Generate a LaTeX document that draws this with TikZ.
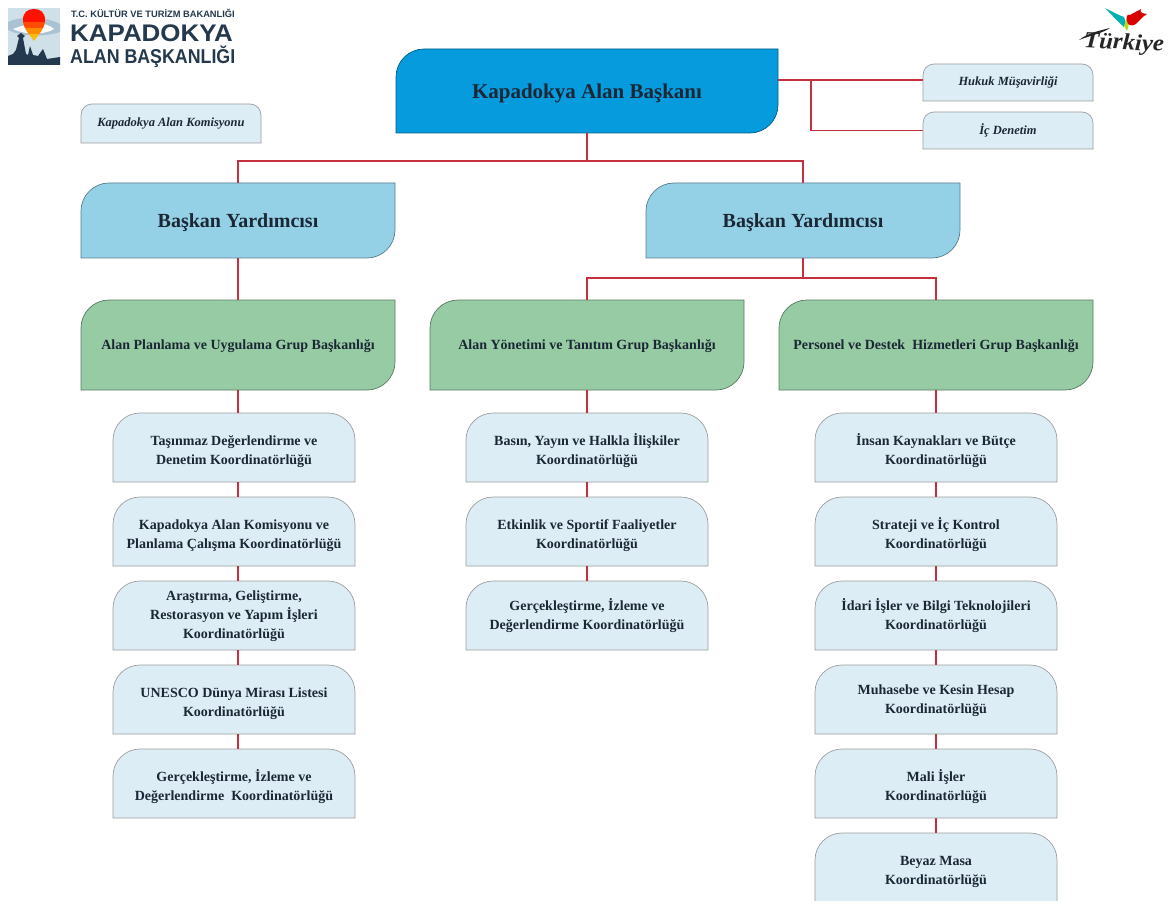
\documentclass[tikz,border=0pt]{standalone}
\usepackage{fontspec}
\setmainfont{Liberation Serif}
\newfontfamily\logofont{Liberation Sans}
\definecolor{linkred}{HTML}{C6303C}
\definecolor{presblue}{HTML}{059BDD}
\definecolor{vpblue}{HTML}{95D1E6}
\definecolor{groupgreen}{HTML}{97CBA3}
\definecolor{paleblue}{HTML}{DDEDF6}
\definecolor{inkdark}{HTML}{1B2735}
\definecolor{logonavy}{HTML}{24394D}
\definecolor{logosky}{HTML}{CFE0E8}
\definecolor{logoband}{HTML}{A9C3D2}
\tikzset{
  link/.style={draw=linkred,line width=1.4pt},
  boxtext/.style={inner sep=0pt,align=center,text=inkdark},
  titlefont/.style={font=\bfseries\fontsize{21}{24}\selectfont},
  vpfont/.style={font=\bfseries\fontsize{20}{24}\selectfont},
  groupfont/.style={font=\bfseries\fontsize{14}{19}\selectfont},
  coordfont/.style={font=\bfseries\fontsize{14}{19}\selectfont},
  smallfont/.style={font=\bfseries\itshape\fontsize{12.5}{14}\selectfont},
}
\newcommand\lowered[2]{\raisebox{-#1pt}[\height][\depth]{#2}}
% name x1 y1 x2 y2 r fill font-style text
\newcommand\diagbox[9]{%
  \filldraw[fill=#7,draw=#7!60!black,line width=.7pt]
    (#2,#5) -- (#2,{#3+#6}) .. controls (#2,{#3+.45*#6}) and ({#2+.45*#6},#3) .. ({#2+#6},#3)
    -- (#4,#3) -- (#4,{#5-#6}) .. controls (#4,{#5-.45*#6}) and ({#4-.45*#6},#5) .. ({#4-#6},#5) -- cycle;
  \node[boxtext,#8,minimum width={(#4-#2)*1pt},minimum height={(#5-#3)*1pt}] (#1) at ({(#2+#4)/2},{(#3+#5)/2}) {#9};}
\newcommand\topbox[8]{%
  \filldraw[fill=paleblue,draw=black!38,line width=.7pt]
    (#2,#5) -- (#2,{#3+#6}) .. controls (#2,{#3+.45*#6}) and ({#2+.45*#6},#3) .. ({#2+#6},#3)
    -- ({#4-#6},#3) .. controls ({#4-.45*#6},#3) and (#4,{#3+.45*#6}) .. (#4,{#3+#6}) -- (#4,#5) -- cycle;
  \node[boxtext,#7,minimum width={(#4-#2)*1pt},minimum height={(#5-#3)*1pt}] (#1) at ({(#2+#4)/2},{(#3+#5)/2}) {#8};}
\newcommand\coordbox[6][3.5]{\topbox{#2}{#3}{#4}{#5}{#4+69}{27}{coordfont}{\lowered{#1}{\begin{tabular}{@{}c@{}}#6\end{tabular}}}}
\begin{document}
\begin{tikzpicture}[x=1pt,y=-1pt]
\useasboundingbox (0,0) rectangle (1169,901);
\clip (0,0) rectangle (1169,901);
\fill[white] (0,0) rectangle (1169,901);

% logo
\fill[logosky] (8,8) rectangle (60,65);
\fill[logoband] (8,22) .. controls (20,16) and (45,16) .. (60,24) -- (60,32) .. controls (40,38) and (20,36) .. (8,30) -- cycle;
\fill[white!90!paleblue] (13,29) .. controls (25,24) and (45,20) .. (54,29) .. controls (45,35) and (25,35) .. (13,29) -- cycle;
\fill[logonavy] (8,65) -- (8,56) -- (13,54) -- (16,50) -- (19,38) -- (17,36) -- (21,33) -- (25,36) -- (23,38) -- (26,54) -- (28,55) -- (30,46) -- (33,55) -- (38,56) -- (43,49) -- (47,59) -- (60,57) -- (60,65) -- cycle;
\begin{scope}
\clip (34,41) .. controls (30,35) and (23,29) .. (23,20) .. controls (23,12) and (28,9) .. (34,9) .. controls (40,9) and (45,12) .. (45,20) .. controls (45,29) and (38,35) .. (34,41) -- cycle;
\fill[red!85!orange] (20,5) rectangle (48,22);
\fill[orange!60!red] (20,22) rectangle (48,28);
\fill[orange!90!yellow] (20,28) rectangle (48,34);
\fill[yellow!50!orange] (20,34) rectangle (48,42);
\end{scope}
\node[anchor=west,inner sep=0pt,text=logonavy,font=\logofont\bfseries\fontsize{9.3}{10}\selectfont] (lg1) at (71,13) {T.C. KÜLTÜR VE TURİZM BAKANLIĞI};
\node[anchor=west,inner sep=0pt,text=logonavy,font=\logofont\bfseries\fontsize{24}{26}\selectfont,xscale=1.08] (lg2) at (70,33) {KAPADOKYA};
\node[anchor=west,inner sep=0pt,text=logonavy,font=\logofont\bfseries\fontsize{20}{21}\selectfont,xscale=.89] (lg3) at (70,57) {ALAN BAŞKANLIĞI};

% Türkiye mark
\fill[teal!60!cyan] (1105,8) .. controls (1112,15) and (1118,22) .. (1124,27) .. controls (1126,22) and (1126,20) .. (1124,17) .. controls (1118,15) and (1111,11) .. (1105,8) -- cycle;
\fill[yellow!70!green] (1124,26) -- (1127,18) .. controls (1129,22) and (1129,26) .. (1127,31) -- cycle;
\fill[red!85!black] (1128,24) .. controls (1125,18) and (1127,13) .. (1130,15) .. controls (1133,13) and (1138,11) .. (1141,9) .. controls (1140,12) and (1140,13) .. (1147,14) .. controls (1142,17) and (1140,20) .. (1137,23) .. controls (1134,26) and (1130,26) .. (1128,24) -- cycle;
\fill[black!85] (1079,40) .. controls (1088,33) and (1098,31) .. (1110,28) .. controls (1103,33) and (1092,35) .. (1079,40) -- cycle;
\node[inner sep=0pt,text=black!85,font=\bfseries\itshape\fontsize{23}{25}\selectfont,xscale=1.08,rotate=-3] (tk) at (1124,44) {Türkiye};

% boxes
\diagbox{pres}{396}{49}{778}{133}{28}{presblue}{titlefont}{\lowered{2}{Kapadokya Alan Başkanı}}
\topbox{huk}{923}{64}{1093}{101}{11}{smallfont}{Hukuk Müşavirliği}
\topbox{ic}{923}{112}{1093}{149}{11}{smallfont}{İç Denetim}
\topbox{kom}{81}{104}{261}{143}{11}{smallfont}{Kapadokya Alan Komisyonu}

\diagbox{vpa}{81}{183}{395}{258}{28}{vpblue}{vpfont}{\lowered{2}{Başkan Yardımcısı}}
\diagbox{vpb}{646}{183}{960}{258}{28}{vpblue}{vpfont}{\lowered{2}{Başkan Yardımcısı}}

\diagbox{gpa}{81}{300}{395}{390}{28}{groupgreen}{groupfont}{\lowered{1}{Alan Planlama ve Uygulama Grup Başkanlığı}}
\diagbox{gpb}{430}{300}{744}{390}{28}{groupgreen}{groupfont}{\lowered{1}{Alan Yönetimi ve Tanıtım Grup Başkanlığı}}
\diagbox{gpc}{779}{300}{1093}{390}{28}{groupgreen}{groupfont}{\lowered{1}{Personel ve Destek\ \ Hizmetleri Grup Başkanlığı}}

\coordbox[4]{a1}{113}{413}{355}{Taşınmaz Değerlendirme ve\\Denetim Koordinatörlüğü}
\coordbox[4]{a2}{113}{497}{355}{Kapadokya Alan Komisyonu ve\\Planlama Çalışma Koordinatörlüğü}
\coordbox[0.5]{a3}{113}{581}{355}{Araştırma, Geliştirme,\\Restorasyon ve Yapım İşleri\\Koordinatörlüğü}
\coordbox{a4}{113}{665}{355}{UNESCO Dünya Mirası Listesi\\Koordinatörlüğü}
\coordbox{a5}{113}{749}{355}{Gerçekleştirme, İzleme ve\\Değerlendirme\ \ Koordinatörlüğü}

\coordbox[4]{b1}{466}{413}{708}{Basın, Yayın ve Halkla İlişkiler\\Koordinatörlüğü}
\coordbox[4]{b2}{466}{497}{708}{Etkinlik ve Sportif Faaliyetler\\Koordinatörlüğü}
\coordbox[1]{b3}{466}{581}{708}{Gerçekleştirme, İzleme ve\\Değerlendirme Koordinatörlüğü}

\coordbox[4]{c1}{815}{413}{1057}{İnsan Kaynakları ve Bütçe\\Koordinatörlüğü}
\coordbox[4]{c2}{815}{497}{1057}{Strateji ve İç Kontrol\\Koordinatörlüğü}
\coordbox[1]{c3}{815}{581}{1057}{İdari İşler ve Bilgi Teknolojileri\\Koordinatörlüğü}
\coordbox[1]{c4}{815}{665}{1057}{Muhasebe ve Kesin Hesap\\Koordinatörlüğü}
\coordbox{c5}{815}{749}{1057}{Mali İşler\\Koordinatörlüğü}
\coordbox{c6}{815}{833}{1057}{Beyaz Masa\\Koordinatörlüğü}

% connectors
\coordinate (presr) at (778,80);
\coordinate (junc) at (811,80);
\coordinate (busa) at (587,161);
\coordinate (busb) at (803,278);
\draw[link] (presr) -- (presr -| huk.west);
\draw[link] (junc) |- (ic.west);
\draw[link] (pres.south) -- (busa);
\draw[link] (vpa.north) |- (busa) -| (vpb.north);
\draw[link] (vpa.south) -- (gpa.north);
\draw[link] (vpb.south) -- (busb);
\draw[link] (gpb.north) |- (busb) -| (gpc.north);
\draw[link] (gpa.south) -- (gpa.south |- a1.north);
\foreach \u/\v in {a1/a2,a2/a3,a3/a4,a4/a5}{\draw[link] (gpa.south |- \u.south) -- (gpa.south |- \v.north);}
\draw[link] (gpb.south) -- (b1.north);
\foreach \u/\v in {b1/b2,b2/b3}{\draw[link] (\u.south) -- (\v.north);}
\draw[link] (gpc.south) -- (c1.north);
\foreach \u/\v in {c1/c2,c2/c3,c3/c4,c4/c5,c5/c6}{\draw[link] (\u.south) -- (\v.north);}
\end{tikzpicture}
\end{document}
